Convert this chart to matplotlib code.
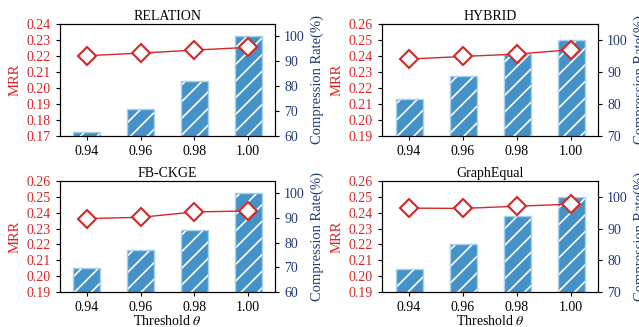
import matplotlib.pyplot as plt

plt.rcParams["font.family"] = ["Liberation Serif", "DejaVu Serif"]
plt.rcParams["mathtext.fontset"] = "stix"
plt.rcParams["hatch.linewidth"] = 1.2

thresholds = ["0.94", "0.96", "0.98", "1.00"]

titles = ["RELATION", "HYBRID", "FB-CKGE", "GraphEqual"]
mrr_relation = [0.2202, 0.2218, 0.2237, 0.2254]
mrr_hybrid = [0.2381, 0.2397, 0.2412, 0.2439]
mrr_fbckge = [0.2363, 0.2371, 0.2405, 0.2411]
mrr_graphequal = [0.2429, 0.2427, 0.2441, 0.2454]

cr_relation = [61.6, 70.9, 81.9, 100.0]
cr_hybrid = [81.5, 88.7, 95.7, 100.0]
cr_fbckge = [69.7, 77.0, 85.0, 100.0]
cr_graphequal = [77.1, 85.1, 94.0, 100.0]

mrr_lims = [(0.17, 0.24), (0.19, 0.26), (0.19, 0.26), (0.19, 0.26)]
cr_lims = [(60, 105), (70, 105), (60, 105), (70, 105)]
cr_ticks = [[60, 70, 80, 90, 100], [70, 80, 90, 100], [60, 70, 80, 90, 100], [70, 80, 90, 100]]

RED = "#d62728"
NAVY = "#1f3a7a"
BAR = "#4592c8"
BAR_EDGE = "#a8d0ea"

mrrs = [mrr_relation, mrr_hybrid, mrr_fbckge, mrr_graphequal]
crs = [cr_relation, cr_hybrid, cr_fbckge, cr_graphequal]

fig = plt.figure(figsize=(6.39, 3.27), dpi=100)
# left, bottom, width, height in figure fraction
boxes = [
    (60 / 639, 1 - 136 / 327, 215 / 639, 112 / 327),
    (382 / 639, 1 - 136 / 327, 216 / 639, 112 / 327),
    (60 / 639, 1 - 292 / 327, 215 / 639, 111 / 327),
    (382 / 639, 1 - 292 / 327, 216 / 639, 111 / 327),
]

x = list(range(len(thresholds)))
fs = 10

for i in range(4):
    ax = fig.add_axes(boxes[i])
    ax2 = ax.twinx()
    # bars on the right axis, drawn behind the MRR line
    ax2.bar(x, crs[i], width=0.5, color=BAR, edgecolor="white", hatch="//", linewidth=0, zorder=1)
    ax2.bar(x, crs[i], width=0.5, fill=False, edgecolor=BAR_EDGE, linewidth=1.0, zorder=2)
    ax2.set_ylim(*cr_lims[i])
    ax2.set_yticks(cr_ticks[i])
    ax2.tick_params(axis="y", labelcolor=NAVY, labelsize=fs, length=3)
    ax2.set_ylabel("Compression Rate(%)", color=NAVY, fontsize=fs + 0.5)

    ax.set_zorder(ax2.get_zorder() + 1)
    ax.patch.set_visible(False)
    ax.plot(x, mrrs[i], color=RED, marker="D", markersize=9, markerfacecolor="white",
            markeredgecolor=RED, markeredgewidth=1.5, linewidth=1.0)
    ax.set_ylim(*mrr_lims[i])
    lo, hi = mrr_lims[i]
    ax.set_yticks([round(lo + 0.01 * k, 2) for k in range(8)])
    ax.set_yticklabels([f"{lo + 0.01 * k:.2f}" for k in range(8)])
    ax.tick_params(axis="y", labelcolor=RED, labelsize=fs, length=3)
    ax.tick_params(axis="x", labelsize=fs, length=3)
    ax.set_ylabel("MRR", color=RED, fontsize=fs + 0.5)
    ax.set_xticks(x)
    ax.set_xticklabels(thresholds)
    ax.set_xlim(-0.5, 3.5)
    ax.set_title(titles[i], fontsize=fs, pad=3)
    if i >= 2:
        ax.set_xlabel(r"Threshold $\theta$", fontsize=fs, labelpad=0)

fig.savefig("out.png", dpi=100)
